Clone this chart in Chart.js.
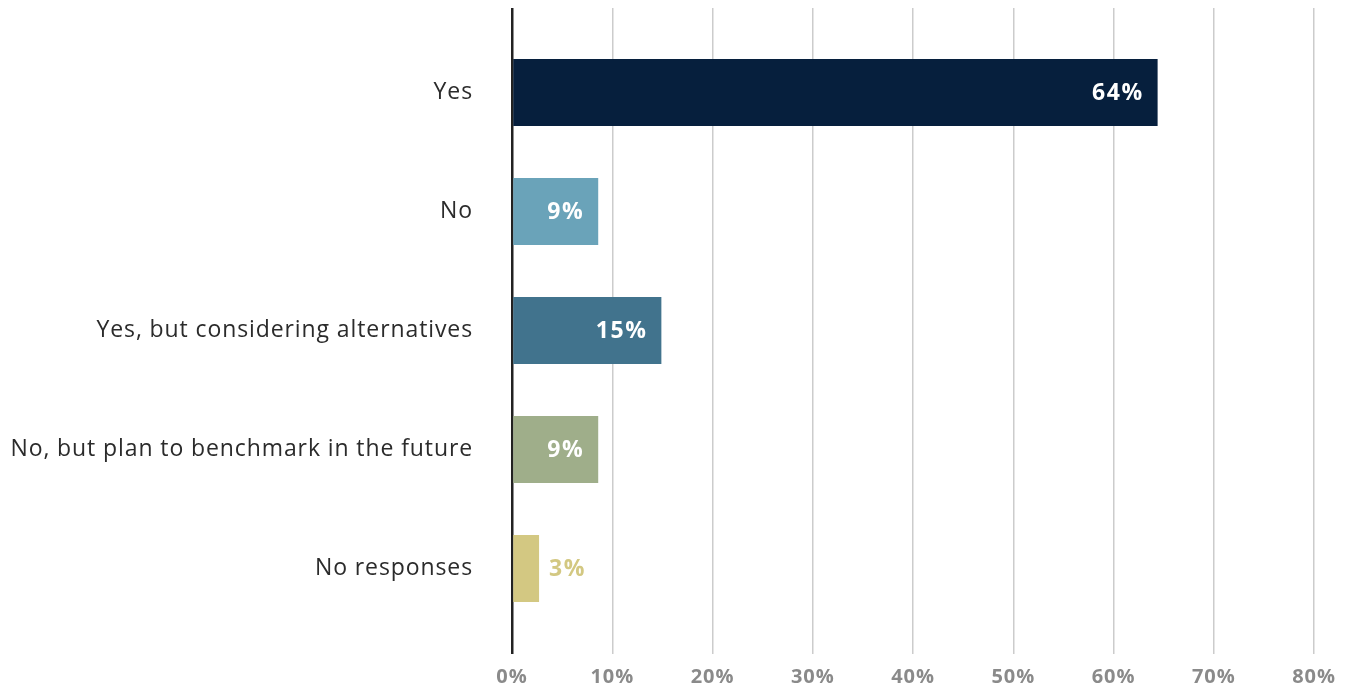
<!DOCTYPE html>
<html>
<head>
<meta charset="utf-8">
<script src="https://cdn.jsdelivr.net/npm/chart.js@4.4.0/dist/chart.umd.min.js"></script>
<style>
  html, body { margin: 0; padding: 0; background: #fff; }
  #wrap { width: 1352px; height: 687px; position: relative; }
</style>
</head>
<body>
<div id="wrap"><canvas id="chart"></canvas></div>
<script>
const categories = ["Yes", "No", "Yes, but considering alternatives", "No, but plan to benchmark in the future", "No responses"];
const shares = [64.4, 8.6, 14.9, 8.6, 2.7];
const barColors = ["#061f3d", "#6aa3b9", "#41738d", "#9fae8a", "#d3c882"];
const axisMax = 80;
const axisStep = 10;

const FONT = "'Open Sans', 'DejaVu Sans', sans-serif";

// the original font is wider, so spread letters a little on every text
const spacing = {
  id: "spacing",
  beforeLayout(chart) { chart.ctx.letterSpacing = "0.9px"; },
  beforeDraw(chart) { chart.ctx.letterSpacing = "0.9px"; }
};

// value labels: inside the bar end in white, outside in bar colour when the bar is short
const valueLabels = {
  id: "valueLabels",
  afterDatasetsDraw(chart) {
    const ctx = chart.ctx;
    const meta = chart.getDatasetMeta(0);
    ctx.save();
    ctx.letterSpacing = "1.5px";
    ctx.font = "bold 23px " + FONT;
    ctx.textBaseline = "middle";
    meta.data.forEach((bar, i) => {
      const txt = Math.round(shares[i]) + "%";
      const w = bar.x - bar.base;
      if (w > 70) {
        ctx.fillStyle = "#ffffff";
        ctx.textAlign = "right";
        ctx.fillText(txt, bar.x - 14, bar.y + 1);
      } else {
        ctx.fillStyle = barColors[i];
        ctx.textAlign = "left";
        ctx.fillText(txt, bar.x + 10, bar.y + 1);
      }
    });
    ctx.restore();
  }
};

const gridColor = (c) => (c.tick && c.tick.value === 0 ? "#222222" : "#cccccc");
const gridWidth = (c) => (c.tick && c.tick.value === 0 ? 2.5 : 1.5);

new Chart(document.getElementById("chart").getContext("2d"), {
  type: "bar",
  data: {
    labels: categories,
    datasets: [{
      data: shares,
      backgroundColor: barColors,
      borderWidth: 0,
      categoryPercentage: 1,
      barPercentage: 0.563
    }]
  },
  options: {
    indexAxis: "y",
    responsive: true,
    maintainAspectRatio: false,
    animation: false,
    layout: { padding: { top: 8, right: 38, bottom: 0, left: 0 } },
    plugins: {
      legend: { display: false },
      tooltip: { enabled: false }
    },
    scales: {
      x: {
        position: "bottom",
        min: 0,
        max: axisMax,
        border: { display: false },
        grid: { color: gridColor, lineWidth: gridWidth, tickLength: 26 },
        afterFit: (s) => { s.height = 59; s.paddingLeft = 0; s.paddingRight = 0; },
        ticks: {
          stepSize: axisStep,
          padding: 11,
          color: "#8a8a8a",
          font: { family: FONT, size: 20, weight: "bold" },
          callback: (v) => v + "%"
        }
      },
      x2: {
        position: "top",
        min: 0,
        max: axisMax,
        border: { display: false },
        grid: { color: gridColor, lineWidth: gridWidth, drawOnChartArea: false, tickLength: 25 },
        afterFit: (s) => { s.height = 25; s.paddingLeft = 0; s.paddingRight = 0; },
        ticks: { stepSize: axisStep, display: false }
      },
      y: {
        border: { display: false },
        grid: { display: false },
        afterFit: (s) => { s.width = 512; s.paddingTop = 0; s.paddingBottom = 0; },
        ticks: {
          padding: 31,
          color: "#2b2b2b",
          font: { family: FONT, size: 23 }
        }
      }
    }
  },
  plugins: [spacing, valueLabels]
});
</script>
</body>
</html>
